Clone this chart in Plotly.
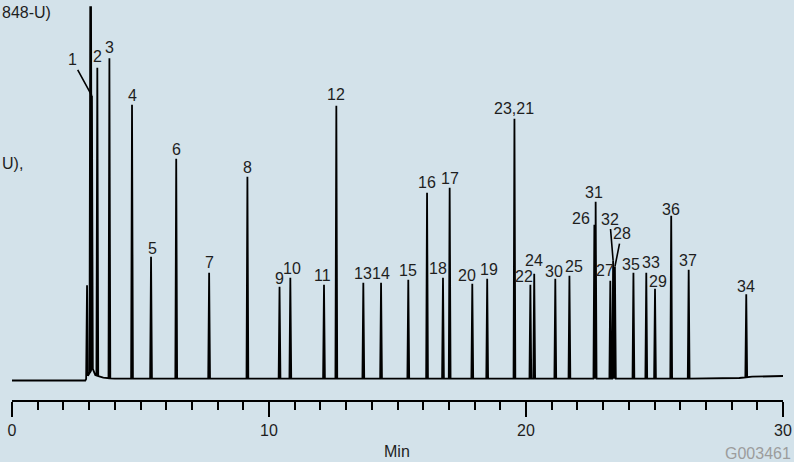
import numpy as np
import plotly.graph_objects as go

# Peak table: label, retention time (min), peak height (detector units)
peak_labels = ["1", "2", "3", "4", "5", "6", "7", "8", "9", "10",
               "11", "12", "13", "14", "15", "16", "18", "17", "20", "19",
               "23,21", "22", "24", "30", "25", "26", "31", "27", "32", "28",
               "35", "33", "29", "36", "37", "34"]
peak_times = [3.11, 3.32, 3.79, 4.67, 5.41, 6.39, 7.67, 9.16, 10.41, 10.83,
              12.14, 12.62, 13.67, 14.36, 15.42, 16.15, 16.77, 17.03, 17.91, 18.49,
              19.55, 20.17, 20.32, 21.14, 21.69, 22.66, 22.71, 23.28, 23.39, 23.46,
              24.18, 24.68, 25.02, 25.65, 26.33, 28.57]
peak_heights = [273, 308, 320, 274, 122, 220, 106, 202, 92, 101,
                94, 273, 96, 96, 99, 186, 101, 191, 95, 100,
                260, 94, 105, 100, 103, 154, 177, 98, 118, 112,
                106, 106, 90, 163, 109, 83]

# Unlabelled peaks: small early peak and the solvent front
extra_times = [2.92]
extra_heights = [92]
solvent_time = 3.06
solvent_height = 365

# Baseline drift, including the solvent tail
base_t = [0.0, 2.85, 3.13, 3.24, 3.55, 4.0, 26.5, 28.3, 28.8, 30.0]
base_v = [-1.5, -1.5, 11.0, 4.0, 1.3, 0.3, 0.3, 1.0, 2.3, 3.0]

HALF_W = 0.035


def baseline(t):
    return float(np.interp(t, base_t, base_v))


all_t = list(peak_times) + extra_times
all_h = list(peak_heights) + extra_heights

pts = []
for bt, bv in zip(base_t, base_v):
    if all(abs(bt - pt) > HALF_W for pt in all_t):
        pts.append((bt, bv))
for pt, ph in zip(all_t, all_h):
    pts.append((pt - HALF_W, baseline(pt - HALF_W)))
    pts.append((pt, baseline(pt) + ph))
    pts.append((pt + HALF_W, baseline(pt + HALF_W)))
pts.sort(key=lambda p: p[0])
trace_x = [p[0] for p in pts]
trace_y = [p[1] for p in pts]

fig = go.Figure()
fig.add_trace(go.Scatter(x=trace_x, y=trace_y, mode="lines",
                         line=dict(color="black", width=1.8),
                         hoverinfo="skip", showlegend=False))
fig.add_trace(go.Scatter(
    x=[solvent_time - 0.03, solvent_time, solvent_time + 0.03],
    y=[baseline(solvent_time - 0.03), baseline(solvent_time) + solvent_height,
       baseline(solvent_time + 0.03)],
    mode="lines", line=dict(color="black", width=2.6),
    hoverinfo="skip", showlegend=False))

# Label placement: (x shift px, y shift px above the peak top)
label_offsets = {
    "2": (0, 11), "3": (0, 11), "4": (0, 9), "5": (1, 8.5), "6": (0, 9),
    "7": (0, 10), "8": (0, 9), "9": (0, 8.5), "10": (1.7, 9), "11": (-1.4, 9),
    "12": (0, 11), "13": (0, 9.4), "14": (0, 9.4), "15": (0, 9), "16": (0, 10),
    "18": (-5, 9), "17": (0, 9.7), "20": (-5, 8), "19": (1.7, 9.7),
    "23,21": (0, 10), "22": (-6.3, 8.3), "24": (0, 13.3), "30": (-1.3, 7.7),
    "25": (4.7, 9.3), "26": (-13, 6), "31": (-1.3, 9), "27": (-5.7, 10.7),
    "35": (-2.3, 8.3), "33": (4.7, 10), "29": (3, 7.6), "36": (0, 6.7),
    "37": (-1, 9), "34": (0, 8.3),
}
# Labels joined to their peak by a leader line: (label dx px, label dy px)
leader_offsets = {"1": (-19.7, -36), "32": (-3.4, -41.7), "28": (6.6, -33)}

FONT = "Liberation Sans, Arial, Helvetica, sans-serif"
TXT = "#1e1e1e"

annotations = []
for lab, pt, ph in zip(peak_labels, peak_times, peak_heights):
    top = baseline(pt) + ph
    if lab in leader_offsets:
        ax, ay = leader_offsets[lab]
        annotations.append(dict(
            x=pt, y=top, xref="x", yref="y", text=lab, showarrow=True,
            ax=ax, ay=ay, arrowhead=0, arrowwidth=1.6, arrowcolor="black",
            standoff=0, font=dict(family=FONT, size=16, color=TXT)))
    else:
        dx, dy = label_offsets[lab]
        annotations.append(dict(
            x=pt, y=top, xref="x", yref="y", text=lab, showarrow=False,
            xanchor="center", yanchor="middle", xshift=dx, yshift=dy,
            font=dict(family=FONT, size=16, color=TXT)))

PLOT_L, PLOT_W, PLOT_H = 12, 771, 400


def px_x(px):
    return (px - PLOT_L) / PLOT_W


def px_y(py):
    return 1 - py / PLOT_H


annotations += [
    dict(x=px_x(0), y=px_y(13), xref="paper", yref="paper", text="848-U)",
         showarrow=False, xanchor="left", yanchor="middle",
         font=dict(family=FONT, size=16, color=TXT)),
    dict(x=px_x(0), y=px_y(163), xref="paper", yref="paper", text="U),",
         showarrow=False, xanchor="left", yanchor="middle",
         font=dict(family=FONT, size=16, color=TXT)),
    dict(x=px_x(397), y=px_y(452), xref="paper", yref="paper", text="Min",
         showarrow=False, xanchor="center", yanchor="middle",
         font=dict(family=FONT, size=16, color=TXT)),
    dict(x=px_x(793), y=px_y(453), xref="paper", yref="paper", text="G003461",
         showarrow=False, xanchor="right", yanchor="middle",
         font=dict(family=FONT, size=16, color="#9c9c9c")),
]

BG = "#d3e2ea"
fig.update_layout(
    width=794, height=462,
    margin=dict(l=PLOT_L, r=794 - PLOT_L - PLOT_W, t=0, b=462 - PLOT_H),
    paper_bgcolor=BG, plot_bgcolor=BG,
    annotations=annotations,
    xaxis=dict(range=[0, 30], tickvals=[0, 10, 20, 30], ticks="outside",
               ticklen=15, tickwidth=1.5, tickcolor="black",
               showline=True, linewidth=2, linecolor="black",
               showgrid=False, zeroline=False,
               tickfont=dict(family=FONT, size=16, color=TXT),
               minor=dict(dtick=1, ticks="outside", ticklen=8, tickwidth=1.5,
                          tickcolor="black", showgrid=False)),
    yaxis=dict(range=[-21, 379], visible=False, showgrid=False, zeroline=False),
)

fig.write_html("out.html")
